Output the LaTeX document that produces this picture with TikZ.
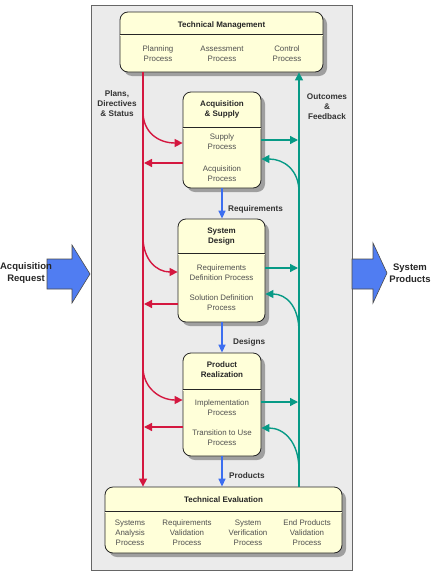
\documentclass[tikz,border=0pt]{standalone}
\usepackage{fontspec}
\setmainfont{Liberation Sans}
\usetikzlibrary{arrows.meta,shadows}
\definecolor{redc}{HTML}{D4173F}
\definecolor{tealc}{HTML}{079A86}
\definecolor{bluec}{HTML}{3C6EF0}
\definecolor{boxfill}{HTML}{FFFFD9}
\definecolor{bgc}{HTML}{EBEBEB}
\definecolor{txtc}{HTML}{505050}
\tikzset{
  pbox/.style={draw=black!85,line width=0.8pt,fill=boxfill,rounded corners=8pt,
    drop shadow={shadow xshift=4pt,shadow yshift=-4pt,fill=black!45,opacity=0.8},inner sep=0pt},
  ttl/.style={font=\fontsize{8}{10}\selectfont\bfseries,text=black!85,align=center,inner sep=0pt},
  proc/.style={font=\fontsize{7.9}{10}\selectfont,text=txtc,align=center,inner sep=0pt},
  lbl/.style={font=\fontsize{8.2}{10}\selectfont\bfseries,text=black!80,align=center,inner sep=0pt},
  biglbl/.style={font=\fontsize{9.5}{12}\selectfont\bfseries,text=black!85,align=center,inner sep=0pt},
  divl/.style={draw=black!85,double=boxfill,double distance=0.9pt,line width=0.6pt},
  redarr/.style={draw=redc,line width=1.4pt,-{Triangle[length=8pt,width=8pt]}},
  tealarr/.style={draw=tealc,line width=1.4pt,-{Triangle[length=8pt,width=8pt]}},
  bluearr/.style={draw=bluec,line width=1.4pt,-{Triangle[length=8pt,width=7pt]}},
  bigarr/.style={draw=black!70,line width=0.6pt,fill=bluec!90!white},
}
\begin{document}
\begin{tikzpicture}[x=1pt,y=-1pt]
\useasboundingbox (0,0) rectangle (437,581);
\fill[white] (0,0) rectangle (437,581);
\draw[fill=bgc,draw=black!60,line width=0.8pt] (91,5) rectangle (352,570);

% big arrows
\draw[bigarr] (47,259) -- (72,259) -- (72,245) -- (90,274) -- (72,303) -- (72,289) -- (47,289) -- cycle;
\draw[bigarr] (352,259) -- (373,259) -- (373,243) -- (387,273) -- (373,303) -- (373,289) -- (352,289) -- cycle;
\node[biglbl] (inreq) at (26,273) {Acquisition\\Request};
\node[biglbl] (outprod) at (410,273) {System\\Products};

% boxes
\node[pbox,minimum width=203pt,minimum height=60pt] (tm) at (221.5,42) {};
\node[pbox,minimum width=78pt,minimum height=96pt] (as) at (222,140) {};
\node[pbox,minimum width=87pt,minimum height=103pt] (sd) at (221.5,270.5) {};
\node[pbox,minimum width=78pt,minimum height=103pt] (pr) at (222,404.5) {};
\node[pbox,minimum width=237pt,minimum height=66pt] (te) at (223.5,520) {};

% dividers
\draw[divl] (tm.west |- 0,35) -- (tm.east |- 0,35);
\draw[divl] (as.west |- 0,128) -- (as.east |- 0,128);
\draw[divl] (sd.west |- 0,254) -- (sd.east |- 0,254);
\draw[divl] (pr.west |- 0,390) -- (pr.east |- 0,390);
\draw[divl] (te.west |- 0,512) -- (te.east |- 0,512);

% texts
\node[ttl] (tmt) at (221.5,25) {Technical Management};
\node[proc] (tm1) at (158,54) {Planning\\Process};
\node[proc] (tm2) at (222,54) {Assessment\\Process};
\node[proc] (tm3) at (287,54) {Control\\Process};

\node[ttl] (ast) at (222,109) {Acquisition\\\& Supply};
\node[proc] (as1) at (222,142) {Supply\\Process};
\node[proc] (as2) at (222,174) {Acquisition\\Process};

\node[ttl] (sdt) at (221.5,237) {System\\Design};
\node[proc] (sd1) at (221.5,273) {Requirements\\Definition Process};
\node[proc] (sd2) at (221.5,303) {Solution Definition\\Process};

\node[ttl] (prt) at (222,370) {Product\\Realization};
\node[proc] (pr1) at (222,408) {Implementation\\Process};
\node[proc] (pr2) at (222,438) {Transition to Use\\Process};

\node[ttl] (tet) at (223.5,500) {Technical Evaluation};
\node[proc] (te1) at (130,533) {Systems\\Analysis\\Process};
\node[proc] (te2) at (187,533) {Requirements\\Validation\\Process};
\node[proc] (te3) at (248,533) {System\\Verification\\Process};
\node[proc] (te4) at (307,533) {End Products\\Validation\\Process};

% labels
\node[lbl] (plans) at (117,104) {Plans,\\Directives\\\& Status};
\node[lbl] (outc) at (327,107) {Outcomes\\\&\\Feedback};
\node[lbl,anchor=west] (reqs) at (228,209) {Requirements};
\node[lbl,anchor=west] (desg) at (233,342) {Designs};
\node[lbl,anchor=west] (prods) at (229,476) {Products};

% main vertical lines
\coordinate (rx) at (143,0);
\coordinate (tx) at (299,0);
\draw[redarr] (tm.south -| rx) -- (te.north -| rx);
\draw[tealarr] (te.north -| tx) -- (tm.south -| tx);

% blue arrows
\draw[bluearr] (as.south) -- (as.south |- sd.north);
\draw[bluearr] (sd.south -| as.south) -- (pr.north);
\draw[bluearr] (pr.south) -- (pr.south |- te.north);

% red curved arrows in, straight out
\draw[redarr] (143,112) .. controls (143,132) and (158,143) .. (as.west |- 0,143);
\draw[redarr] (as.west |- 0,163) -- (144,163);
\draw[redarr] (143,237) .. controls (143,259) and (156,272) .. (sd.west |- 0,272);
\draw[redarr] (sd.west |- 0,304) -- (144,304);
\draw[redarr] (143,367) .. controls (143,388) and (160,400) .. (pr.west |- 0,400);
\draw[redarr] (pr.west |- 0,427) -- (144,427);

% teal
\draw[tealarr] (as.east |- 0,140) -- (298,140);
\draw[tealarr] (299,192) .. controls (299,170) and (284,159) .. (as.east |- 0,159);
\draw[tealarr] (sd.east |- 0,268) -- (298,268);
\draw[tealarr] (299,332) .. controls (299,306) and (286,294) .. (sd.east |- 0,294);
\draw[tealarr] (pr.east |- 0,402) -- (298,402);
\draw[tealarr] (299,470) .. controls (299,442) and (284,428) .. (pr.east |- 0,428);
\end{tikzpicture}
\end{document}
